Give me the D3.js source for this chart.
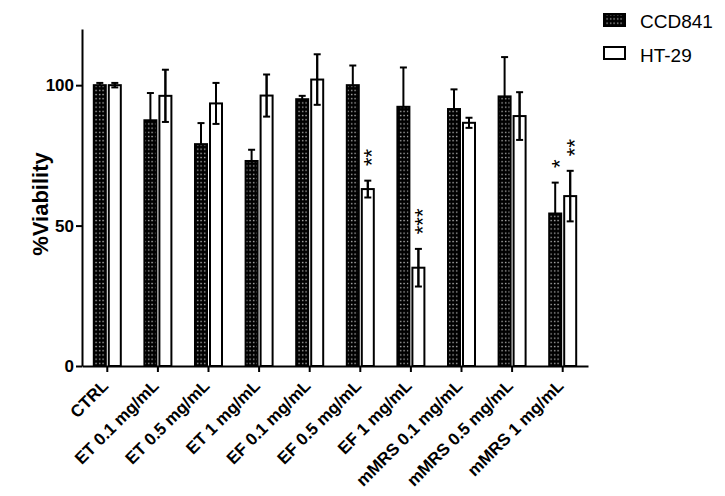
<!DOCTYPE html>
<html>
<head>
<meta charset="utf-8">
<script src="https://cdn.jsdelivr.net/npm/d3@7"></script>
<style>
  body { margin: 0; background: #fff; }
  text { font-family: Arial, "Liberation Sans", sans-serif; }
</style>
</head>
<body>
<svg id="chart" width="725" height="496"></svg>
<script>
// data
const categories = ["CTRL", "ET 0.1 mg/mL", "ET 0.5 mg/mL", "ET 1 mg/mL", "EF 0.1 mg/mL",
  "EF 0.5 mg/mL", "EF 1 mg/mL", "mMRS 0.1 mg/mL", "mMRS 0.5 mg/mL", "mMRS 1 mg/mL"];
const seriesNames = ["CCD841", "HT-29"];
const ccdMean = [100, 87.5, 79, 73, 95, 100, 92.3, 91.5, 96, 54.3];
const ccdErr  = [0.8, 9.7, 7.5, 4, 1.2, 7, 14, 7, 14, 11];
const htMean  = [100, 96.2, 93.5, 96.3, 102, 63, 35, 86.6, 89, 60.5];
const htErr   = [0.8, 9.3, 7.3, 7.5, 9, 3, 6.7, 1.8, 8.5, 9];
const ccdSig  = ["", "", "", "", "", "", "", "", "", "*"];
const htSig   = ["", "", "", "", "", "**", "***", "", "", "**"];
const yTicks  = [0, 50, 100];

const svg = d3.select("#chart");
const FONT = "Arial, 'Liberation Sans', sans-serif";

const x = d3.scaleBand().domain(categories).range([82, 588]).padding(0);
const y = d3.scaleLinear().domain([0, 120]).range([366, 29]);

const defs = svg.append("defs");
const pat = defs.append("pattern").attr("id", "dots").attr("patternUnits", "userSpaceOnUse")
  .attr("width", 3.5).attr("height", 4.2);
pat.append("rect").attr("width", 3.5).attr("height", 4.2).attr("fill", "#000");
pat.append("rect").attr("x", 1).attr("y", 1.5).attr("width", 1.3).attr("height", 1.3).attr("fill", "#c4c4c4");

const barW = 12, gap = 3;
const rows = categories.map((c, i) => ({
  c: c,
  vals: [
    { s: 0, m: ccdMean[i], e: ccdErr[i], sig: ccdSig[i] },
    { s: 1, m: htMean[i], e: htErr[i], sig: htSig[i] }
  ]
}));
const barX = (d, s) => x(d.c) + x.bandwidth() / 2 + (s == 0 ? -gap / 2 - barW : gap / 2);

const g = svg.append("g");
rows.forEach(r => {
  r.vals.forEach(v => {
    const bx = barX(r, v.s);
    const cx = bx + barW / 2;
    // error bar (both directions)
    g.append("line").attr("x1", cx).attr("x2", cx).attr("y1", y(v.m + v.e)).attr("y2", y(v.m - v.e))
      .attr("stroke", "#000").attr("stroke-width", 2);
    [v.m + v.e, v.m - v.e].forEach(val => {
      g.append("line").attr("x1", cx - 3.5).attr("x2", cx + 3.5).attr("y1", y(val)).attr("y2", y(val))
        .attr("stroke", "#000").attr("stroke-width", 2);
    });
    g.append("rect").attr("x", bx).attr("y", y(v.m)).attr("width", barW).attr("height", y(0) - y(v.m))
      .attr("fill", v.s == 0 ? "url(#dots)" : "none").attr("stroke", "#000").attr("stroke-width", 2);
    if (v.s == 1) {
      g.append("line").attr("x1", cx).attr("x2", cx).attr("y1", y(v.m + v.e)).attr("y2", y(v.m - v.e))
        .attr("stroke", "#000").attr("stroke-width", 2);
    }
    // significance stars, written bottom-to-top
    if (v.sig) {
      const cy = y(v.m + v.e) - 19 - (v.sig.length - 1) * 8.5 / 2;
      g.append("text").attr("transform", `translate(${cx + 11.5},${cy}) rotate(-90)`)
        .attr("text-anchor", "middle").attr("font-size", 22).text(v.sig);
    }
  });
});

// axes
const xAxis = svg.append("g").attr("transform", "translate(0,366)")
  .call(d3.axisBottom(x).tickSize(6).tickSizeOuter(0).tickPadding(4));
xAxis.select(".domain").attr("stroke-width", 2);
xAxis.selectAll(".tick line").attr("stroke-width", 2);
xAxis.selectAll(".tick text")
  .attr("font-size", 17).attr("font-weight", "bold").attr("font-family", FONT)
  .attr("text-anchor", "end").attr("x", 0).attr("y", 0).attr("dx", 0).attr("dy", 0)
  .attr("transform", "translate(2,21) rotate(-45)");

const yAxis = svg.append("g").attr("transform", "translate(82,0)")
  .call(d3.axisLeft(y).tickValues(yTicks).tickSize(6).tickSizeOuter(0).tickPadding(2));
yAxis.select(".domain").attr("stroke-width", 2);
yAxis.selectAll(".tick line").attr("stroke-width", 2);
yAxis.selectAll(".tick text").attr("font-size", 17).attr("font-weight", "bold").attr("font-family", FONT);

svg.append("text").attr("transform", "translate(48,204) rotate(-90)").attr("text-anchor", "middle")
  .attr("font-size", 22).attr("font-weight", "bold").text("%Viability");

// legend
const leg = svg.append("g");
seriesNames.forEach((n, i) => {
  leg.append("rect").attr("x", 604).attr("y", 14 + i * 33).attr("width", 21).attr("height", 12)
    .attr("fill", i == 0 ? "url(#dots)" : "#fff").attr("stroke", "#000").attr("stroke-width", 2);
  leg.append("text").attr("x", 640).attr("y", 28 + i * 34).attr("font-size", 19).text(n);
});
</script>
</body>
</html>
